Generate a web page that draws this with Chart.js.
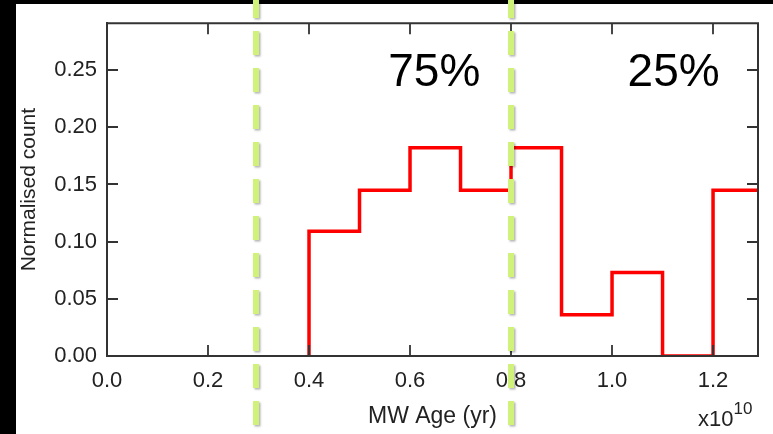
<!DOCTYPE html>
<html>
<head>
<meta charset="utf-8">
<script src="https://cdn.jsdelivr.net/npm/chart.js@4.4.0/dist/chart.umd.min.js"></script>
<style>
  html, body { margin: 0; padding: 0; background: #000; }
  #wrap { width: 773px; height: 434px; }
</style>
</head>
<body>
<div id="wrap"><canvas id="ageChart" width="773" height="434"></canvas></div>
<script>
// MW age histogram, ages in units of 1e10 yr
const binEdges = [0.4, 0.5, 0.6, 0.7, 0.8, 0.9, 1.0, 1.1, 1.2, 1.3];
const binCounts = [0.109, 0.145, 0.182, 0.145, 0.182, 0.036, 0.073, 0.0, 0.145];
const xTickValues = [0.0, 0.2, 0.4, 0.6, 0.8, 1.0, 1.2];
const yTickValues = [0.00, 0.05, 0.10, 0.15, 0.20, 0.25];
// dashed cuts and the share of the sample on each side
const cutAges = [0.295, 0.8];
const shareLabels = ['75%', '25%'];

const FONT = "'Liberation Sans', Arial, Helvetica, sans-serif";

// step outline: each point opens a bin, the last point closes the final bin
const stepPoints = [{ x: binEdges[0], y: 0 }];
binCounts.forEach((c, i) => stepPoints.push({ x: binEdges[i], y: c }));
stepPoints.push({ x: binEdges[binEdges.length - 1], y: binCounts[binCounts.length - 1] });

const framePlugin = {
    id: 'frame',
    beforeDraw(chart) {
        const ctx = chart.ctx;
        ctx.save();
        ctx.fillStyle = '#000';
        ctx.fillRect(0, 0, chart.width, chart.height);
        ctx.fillStyle = '#fff';
        ctx.fillRect(16, 4, chart.width - 16, chart.height - 4);
        ctx.restore();
    },
    afterDatasetsDraw(chart) {
        const { ctx, chartArea: a, scales: { x, y } } = chart;
        ctx.save();
        ctx.strokeStyle = '#333';
        ctx.lineWidth = 2;
        ctx.beginPath();
        ctx.moveTo(a.left, a.top);
        ctx.lineTo(a.right, a.top);
        ctx.lineTo(a.right, a.bottom);
        ctx.stroke();

        // ticks point inwards on all four sides
        ctx.lineWidth = 1.8;
        ctx.beginPath();
        xTickValues.forEach(v => {
            const px = Math.round(x.getPixelForValue(v));
            ctx.moveTo(px, a.bottom); ctx.lineTo(px, a.bottom - 11);
            ctx.moveTo(px, a.top); ctx.lineTo(px, a.top + 11);
        });
        yTickValues.forEach(v => {
            const py = Math.round(y.getPixelForValue(v));
            ctx.moveTo(a.left, py); ctx.lineTo(a.left + 11, py);
            ctx.moveTo(a.right, py); ctx.lineTo(a.right - 11, py);
        });
        ctx.stroke();
        ctx.restore();
    },
    afterDraw(chart) {
        const { ctx, chartArea: a, scales: { x, y } } = chart;
        ctx.save();

        // axis multiplier
        ctx.fillStyle = '#222';
        ctx.textBaseline = 'alphabetic';
        ctx.textAlign = 'left';
        ctx.font = '22px ' + FONT;
        ctx.fillText('x10', a.right - 60, 426);
        const w = ctx.measureText('x10').width;
        ctx.font = '17px ' + FONT;
        ctx.fillText('10', a.right - 60 + w, 414);

        // percentages either side of the upper cut
        ctx.fillStyle = '#000';
        ctx.textAlign = 'center';
        ctx.font = '46px ' + FONT;
        ctx.fillText(shareLabels[0], x.getPixelForValue(0.648), y.getPixelForValue(0.236));
        ctx.fillText(shareLabels[1], x.getPixelForValue(1.122), y.getPixelForValue(0.236));

        // dashed cut lines, running past the plot box
        ctx.strokeStyle = '#d0f27a';
        ctx.lineWidth = 6;
        ctx.setLineDash([24, 13]);
        ctx.shadowColor = 'rgba(0,0,0,0.3)';
        ctx.shadowBlur = 2;
        ctx.shadowOffsetX = 1.5;
        ctx.shadowOffsetY = 1.5;
        cutAges.forEach(age => {
            const px = x.getPixelForValue(age);
            ctx.beginPath();
            ctx.moveTo(px, -6);
            ctx.lineTo(px, chart.height);
            ctx.stroke();
        });
        ctx.restore();
    }
};

new Chart(document.getElementById('ageChart'), {
    type: 'line',
    data: {
        datasets: [{
            data: stepPoints,
            stepped: 'before',
            borderColor: '#ff0000',
            borderWidth: 3.5,
            pointRadius: 0,
            fill: false,
            clip: 0
        }]
    },
    options: {
        responsive: false,
        animation: false,
        layout: { padding: { left: 16, top: 14, right: 15, bottom: 0 } },
        plugins: {
            legend: { display: false },
            tooltip: { enabled: false }
        },
        scales: {
            x: {
                type: 'linear',
                min: 0,
                max: 1.289,
                afterBuildTicks: s => { s.ticks = xTickValues.map(v => ({ value: v })); },
                afterFit: s => { s.height = 78; },
                grid: { display: false, drawTicks: false },
                border: { display: true, color: '#333', width: 2, z: 1 },
                ticks: {
                    font: { family: FONT, size: 22 },
                    color: '#222',
                    padding: 12,
                    maxRotation: 0,
                    autoSkip: false,
                    callback: v => v.toFixed(1)
                },
                title: {
                    display: true,
                    text: 'MW Age (yr)',
                    font: { family: FONT, size: 23 },
                    color: '#222',
                    padding: { top: 0, bottom: 4 }
                }
            },
            y: {
                type: 'linear',
                min: 0,
                max: 0.291,
                afterBuildTicks: s => { s.ticks = yTickValues.map(v => ({ value: v })); },
                afterFit: s => { s.width = 91; },
                grid: { display: false, drawTicks: false },
                border: { display: true, color: '#333', width: 2, z: 1 },
                ticks: {
                    font: { family: FONT, size: 22 },
                    color: '#222',
                    padding: 10,
                    autoSkip: false,
                    callback: v => v.toFixed(2)
                },
                title: {
                    display: true,
                    text: 'Normalised count',
                    font: { family: FONT, size: 21 },
                    color: '#222',
                    padding: { top: 1, bottom: 0 }
                }
            }
        }
    },
    plugins: [framePlugin]
});
</script>
</body>
</html>
